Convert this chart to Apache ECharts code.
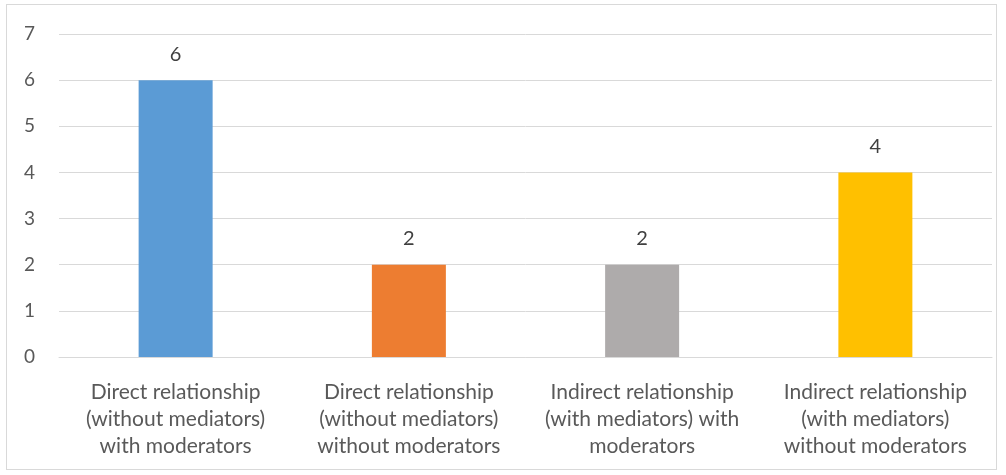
<!DOCTYPE html>
<html>
<head>
<meta charset="utf-8">
<script src="https://cdn.jsdelivr.net/npm/echarts@6/dist/echarts.min.js"></script>
<style>
  html, body { margin: 0; padding: 0; background: #fff; }
  #frame {
    position: absolute; left: 6px; top: 4px; width: 991px; height: 466px;
    border: 1px solid #d9d9d9; box-sizing: border-box;
  }
  #myChart { position: absolute; left: 0; top: 0; width: 1006px; height: 475px; }
</style>
</head>
<body>
<div id="frame"></div>
<div id="myChart"></div>
<script>
// Datas
const categories = [
  'Direct relationship\n(without mediators)\nwith moderators',
  'Direct relationship\n(without mediators)\nwithout moderators',
  'Indirect relationship\n(with mediators) with\nmoderators',
  'Indirect relationship\n(with mediators)\nwithout moderators',
]
const values = [6, 2, 2, 4]
const barColors = ['#5B9BD5', '#ED7D31', '#AEABAB', '#FFC000']

const chart = echarts.init(document.getElementById('myChart'))
chart.setOption({
  animation: false,
  textStyle: { fontFamily: 'Lato' },
  grid: {
    left: 59,
    right: 14,
    top: 34,
    bottom: 118,
  },
  xAxis: {
    type: 'category',
    data: categories,
    axisLine: { lineStyle: { color: '#d9d9d9' } },
    axisTick: { show: false },
    axisLabel: {
      color: '#595959',
      fontSize: 21,
      lineHeight: 27,
      margin: 22,
      interval: 0,
    },
  },
  yAxis: {
    type: 'value',
    min: 0,
    max: 7,
    interval: 1,
    axisLine: { show: false },
    axisTick: { show: false },
    splitLine: { lineStyle: { color: '#d9d9d9', width: 1 } },
    axisLabel: {
      color: '#595959',
      fontSize: 19,
      margin: 24,
    },
  },
  series: [{
    type: 'bar',
    barWidth: 74,
    data: values.map((v, i) => ({ value: v, itemStyle: { color: barColors[i] } })),
    label: {
      show: true,
      position: 'top',
      distance: 16,
      color: '#404040',
      fontSize: 20,
    },
  }],
})
</script>
</body>
</html>
